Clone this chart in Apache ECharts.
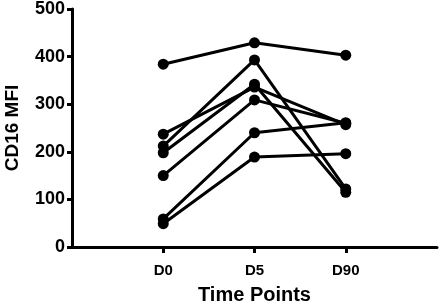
<!DOCTYPE html>
<html>
<head>
<meta charset="utf-8">
<script src="https://cdn.jsdelivr.net/npm/echarts@6/dist/echarts.min.js"></script>
<style>
  html, body { margin: 0; padding: 0; background: #fff; }
  #main { width: 448px; height: 307px; }
</style>
</head>
<body>
<div id="main"></div>
<script>
// categories (blank ends give the padding either side of the three time points)
var timePoints = ['', 'D0', 'D5', 'D90', ' '];
var yTicks = [0, 100, 200, 300, 400, 500];

// one line per subject: D0, D5, D90
var subj1 = [384, 429, 403];
var subj2 = [212, 393, 122];
var subj3 = [237, 336, 257];
var subj4 = [198, 342, 115];
var subj5 = [150, 309, 260];
var subj6 = [59, 240, 261];
var subj7 = [49, 189, 196];
var subjects = [subj1, subj2, subj3, subj4, subj5, subj6, subj7];

var font = 'Liberation Sans, Arial, sans-serif';

var chart = echarts.init(document.getElementById('main'));

var series = subjects.map(function (vals, i) {
  return {
    name: 'S' + (i + 1),
    type: 'line',
    data: [['D0', vals[0]], ['D5', vals[1]], ['D90', vals[2]]],
    symbol: 'circle',
    symbolSize: 11,
    lineStyle: { color: '#000', width: 3 },
    itemStyle: { color: '#000' },
    animation: false
  };
});

var option = {
  animation: false,
  grid: { left: 72, right: 11, top: 9, bottom: 60, outerBoundsMode: 'none', containLabel: false },
  xAxis: {
    type: 'category',
    data: timePoints,
    boundaryGap: false,
    name: 'Time Points',
    nameLocation: 'middle',
    nameGap: 38,
    nameTextStyle: { fontFamily: font, fontWeight: 'bold', fontSize: 20, color: '#000' },
    axisLine: { lineStyle: { color: '#000', width: 3 } },
    axisTick: {
      length: 6,
      lineStyle: { color: '#000', width: 3 },
      interval: function (i, v) { return v.trim() !== ''; }
    },
    axisLabel: { margin: 16, fontFamily: font, fontWeight: 'bold', fontSize: 15, color: '#000' },
    splitLine: { show: false }
  },
  yAxis: {
    type: 'value',
    min: 0,
    max: 500,
    interval: 100,
    name: 'CD16 MFI',
    nameLocation: 'middle',
    nameGap: 50,
    nameTextStyle: { fontFamily: font, fontWeight: 'bold', fontSize: 19, color: '#000' },
    axisLine: { show: true, lineStyle: { color: '#000', width: 3 } },
    axisTick: { show: true, length: 5, lineStyle: { color: '#000', width: 3 } },
    axisLabel: {
      margin: 7, fontFamily: font, fontWeight: 'bold', fontSize: 18, color: '#000',
      formatter: function (v) { return yTicks.indexOf(v) >= 0 ? String(v) : ''; }
    },
    splitLine: { show: false }
  },
  series: series
};

chart.setOption(option);
</script>
</body>
</html>
